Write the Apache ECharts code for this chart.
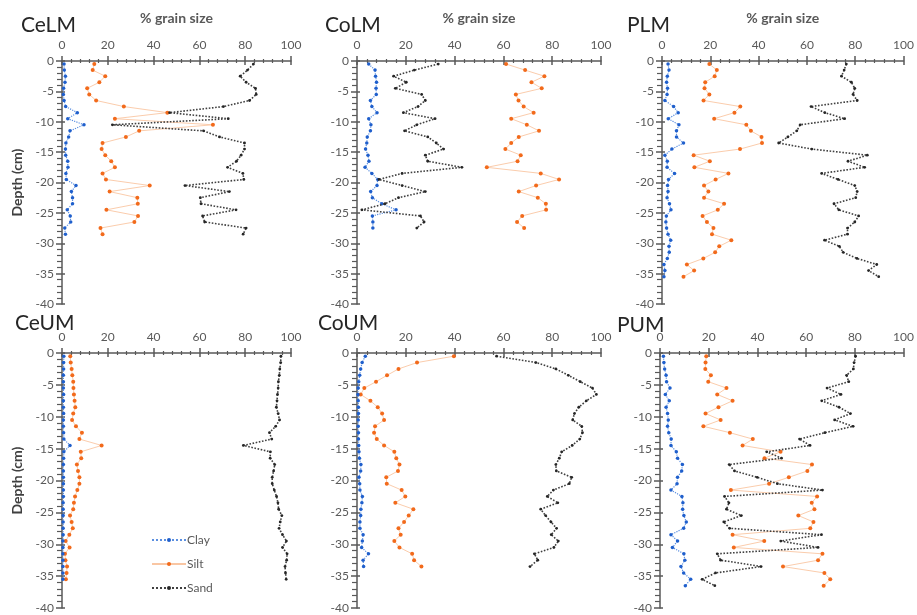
<!DOCTYPE html>
<html>
<head>
<meta charset="utf-8">
<script src="https://cdn.jsdelivr.net/npm/echarts@6/dist/echarts.min.js"></script>
<style>
  html, body { margin: 0; padding: 0; background: #fff; }
  #chart { width: 917px; height: 615px; }
</style>
</head>
<body>
<div id="chart"></div>
<script>
// sample depths (cm), shared by all cores
const depths = [-0.5, -1.5, -2.5, -3.5, -4.5, -5.5, -6.5, -7.5, -8.5, -9.5,
  -10.5, -11.5, -12.5, -13.5, -14.5, -15.5, -16.5, -17.5, -18.5, -19.5,
  -20.5, -21.5, -22.5, -23.5, -24.5, -25.5, -26.5, -27.5, -28.5, -29.5,
  -30.5, -31.5, -32.5, -33.5, -34.5, -35.5, -36.5]
const xTicks = [0, 20, 40, 60, 80, 100]
const yTicks = [0, -5, -10, -15, -20, -25, -30, -35, -40]

// CeLM
const celmClay = [0.9, 1.0, 1.5, 1.3, 0.7, 0.6, 0.9, 1.6, 6.7, 2.5, 9.6, 3.5, 2.9, 1.7, 1.5, 1.6, 2.5, 2.6, 1.7, 1.9, 6.1, 4.1, 4.6, 4.6, 2.3, 3.6, 3.8, 1.2, 1.5]
const celmSilt = [14.1, 13.4, 18.9, 16.3, 11.0, 11.9, 14.9, 27.0, 46.0, 23.1, 65.9, 33.7, 27.9, 17.7, 17.3, 18.9, 21.5, 23.1, 17.7, 19.2, 38.3, 20.8, 32.9, 33.1, 19.4, 33.2, 31.6, 16.8, 17.7]
const celmSand = [83.6, 81.0, 77.8, 80.4, 84.5, 84.8, 81.9, 70.5, 47.0, 72.6, 22.0, 61.8, 68.8, 79.7, 79.7, 78.2, 76.2, 72.3, 79.0, 79.4, 53.7, 73.1, 60.4, 60.7, 76.0, 61.4, 62.3, 80.4, 79.1]
// CoLM
const colmClay = [4.8, 7.4, 7.6, 8.0, 7.8, 7.9, 5.5, 6.1, 8.2, 4.8, 5.7, 5.5, 4.2, 4.0, 3.5, 4.5, 4.9, 3.3, 6.1, 8.5, 8.2, 5.6, 6.3, 10.2, 16.0, 6.3, 6.5, 6.5]
const colmSilt = [61.1, 68.9, 76.8, 71.5, 75.7, 65.1, 66.2, 68.3, 72.4, 63.2, 69.6, 74.6, 66.3, 63.2, 60.8, 67.1, 65.8, 53.2, 75.3, 82.8, 73.4, 66.3, 74.1, 77.4, 77.5, 67.7, 65.6, 68.5]
const colmSand = [33.3, 23.5, 15.0, 20.2, 15.7, 26.5, 28.0, 25.0, 19.0, 32.0, 24.5, 19.5, 29.0, 32.5, 35.5, 28.0, 29.0, 43.0, 18.5, 9.0, 18.5, 28.0, 17.0, 11.5, 2.0, 26.0, 27.5, 24.5]
// PLM
const plmClay = [2.5, 2.9, 2.2, 1.9, 2.3, 2.1, 1.2, 4.8, 6.7, 2.6, 7.0, 6.0, 6.0, 8.9, 4.1, 1.2, 2.2, 2.1, 5.2, 2.7, 2.3, 2.5, 2.1, 3.1, 3.7, 1.8, 1.6, 1.9, 2.5, 3.6, 2.9, 3.0, 2.2, 0.8, 1.2, 0.8]
const plmSilt = [19.6, 22.7, 21.8, 17.9, 17.6, 19.6, 17.2, 32.4, 30.0, 21.6, 34.9, 36.8, 41.2, 41.4, 32.3, 13.1, 19.8, 13.4, 27.5, 22.2, 17.4, 19.2, 17.4, 25.7, 23.1, 16.8, 18.6, 21.3, 20.7, 28.7, 23.7, 22.0, 17.1, 10.3, 13.3, 8.9]
const plmSand = [76.3, 75.4, 74.3, 78.4, 79.8, 79.1, 80.8, 61.7, 67.4, 75.6, 57.2, 55.8, 52.1, 48.3, 62.0, 85.0, 77.0, 83.9, 66.1, 72.9, 79.8, 80.8, 80.2, 71.2, 73.2, 81.4, 79.8, 76.8, 76.8, 67.3, 73.4, 75.0, 80.7, 88.9, 85.5, 89.7]
// CeUM
const ceumClay = [0.8, 0.7, 0.7, 0.6, 0.6, 0.6, 0.7, 0.6, 0.6, 0.7, 0.6, 0.6, 0.7, 0.8, 3.5, 0.8, 0.7, 0.6, 0.6, 0.6, 0.6, 0.6, 0.6, 0.5, 0.5, 0.5, 0.5, 0.5, 0.5, 0.4, 0.4, 0.4, 0.4, 0.4, 0.4, 0.4]
const ceumSilt = [3.6, 3.8, 4.2, 4.5, 4.9, 5.0, 5.2, 5.5, 5.8, 4.9, 4.4, 6.1, 8.7, 7.6, 17.3, 8.2, 8.4, 6.5, 7.0, 7.6, 7.6, 6.7, 5.7, 5.2, 4.9, 3.5, 4.2, 4.7, 3.2, 1.6, 3.3, 1.3, 1.5, 2.2, 2.0, 1.7]
const ceumSand = [95.6, 95.5, 95.1, 94.9, 94.5, 94.4, 94.1, 93.9, 93.6, 94.4, 95.0, 93.3, 90.6, 91.6, 79.2, 91.0, 90.9, 92.9, 92.4, 91.8, 91.8, 92.7, 93.7, 94.3, 94.6, 96.0, 95.3, 94.8, 96.3, 98.0, 96.3, 98.3, 98.1, 97.4, 97.6, 97.9]
// CoUM
const coumClay = [3.4, 2.1, 1.5, 1.1, 0.7, 0.5, 0.4, 0.5, 0.6, 0.6, 0.5, 0.5, 0.6, 0.6, 0.7, 0.8, 1.0, 1.6, 1.5, 0.8, 1.1, 1.2, 2.2, 2.0, 1.6, 1.5, 1.2, 1.2, 2.5, 2.2, 1.9, 4.7, 2.5, 2.7]
const coumSilt = [39.7, 24.6, 17.0, 12.3, 7.8, 3.0, 1.5, 5.5, 8.5, 10.3, 11.1, 7.4, 7.0, 8.1, 11.1, 15.3, 16.1, 17.4, 16.8, 12.0, 12.2, 18.3, 19.8, 15.7, 23.1, 21.2, 19.3, 17.0, 17.9, 15.3, 17.4, 22.6, 23.4, 26.4]
const coumSand = [57.2, 73.3, 81.5, 86.6, 91.5, 96.5, 98.1, 94.0, 90.9, 89.1, 88.4, 92.1, 92.4, 91.3, 88.2, 83.9, 82.9, 81.5, 81.7, 88.0, 87.0, 80.5, 78.0, 82.3, 75.3, 77.3, 79.5, 81.8, 79.6, 82.5, 80.7, 72.7, 74.1, 70.9]
// PUM
const pumClay = [1.4, 1.6, 1.9, 2.5, 2.7, 4.1, 2.2, 3.8, 2.5, 3.1, 3.4, 3.1, 3.6, 4.6, 4.5, 6.7, 7.2, 9.2, 8.9, 7.2, 7.0, 4.5, 9.0, 9.4, 9.3, 9.8, 10.8, 9.7, 4.5, 7.2, 5.1, 9.8, 10.2, 8.6, 9.7, 12.6, 10.4]
const pumSilt = [19.0, 18.7, 18.6, 20.9, 19.8, 27.3, 23.5, 29.8, 24.0, 18.7, 24.9, 17.8, 28.7, 38.1, 33.9, 49.5, 42.9, 62.4, 60.5, 52.9, 44.8, 29.1, 64.5, 62.3, 63.4, 56.8, 63.0, 61.7, 29.8, 42.8, 30.3, 66.7, 64.9, 50.5, 67.5, 69.9, 67.2]
const pumSand = [80.3, 79.7, 79.4, 76.6, 77.5, 68.6, 74.3, 66.4, 73.5, 78.2, 71.7, 79.3, 67.7, 57.3, 61.6, 43.8, 49.9, 28.4, 30.6, 39.9, 48.2, 66.7, 26.5, 28.3, 27.3, 33.4, 26.2, 28.6, 66.3, 49.6, 64.9, 23.5, 24.9, 41.5, 22.8, 17.3, 22.5]

const panels = [
  { name: 'CeLM', clay: celmClay, silt: celmSilt, sand: celmSand, top: true, depthName: true },
  { name: 'CoLM', clay: colmClay, silt: colmSilt, sand: colmSand, top: true },
  { name: 'PLM', clay: plmClay, silt: plmSilt, sand: plmSand, top: true },
  { name: 'CeUM', clay: ceumClay, silt: ceumSilt, sand: ceumSand, depthName: true },
  { name: 'CoUM', clay: coumClay, silt: coumSilt, sand: coumSand },
  { name: 'PUM', clay: pumClay, silt: pumSilt, sand: pumSand }
]
// 画布上的位置
const boxes = [
  { left: 62, top: 61, width: 229, height: 243, title: [16, 10] },
  { left: 357, top: 61, width: 244, height: 243, title: [320, 10] },
  { left: 662, top: 61, width: 244, height: 243, title: [622, 10] },
  { left: 62, top: 353, width: 229, height: 255, title: [10, 308] },
  { left: 357, top: 353, width: 244, height: 255, title: [313, 308] },
  { left: 660, top: 353, width: 244, height: 255, title: [612, 310] }
]

const font = 'Lato, "Open Sans", sans-serif'
const axisColor = '#595959'
const labelColor = '#595959'

const pairs = (vals) => vals.map((v, i) => [v, depths[i]])

const grid = [], xAxis = [], yAxis = [], series = [], title = []
const xOver = [], yOver = []
panels.forEach((p, i) => {
  const b = boxes[i]
  grid.push({ left: b.left, top: b.top, width: b.width, height: b.height, containLabel: false })
  title.push({
    text: p.name, left: b.title[0], top: b.title[1],
    textStyle: { fontFamily: font, fontSize: 21, fontWeight: 'normal', color: '#262626' }
  })
  xAxis.push({
    gridIndex: i, type: 'value', position: 'top', min: 0, max: 100, interval: 20,
    name: p.top ? '% grain size' : '', nameLocation: 'middle', nameGap: 36,
    nameTextStyle: { fontFamily: font, fontSize: 14, fontWeight: 'bold', color: '#595959' },
    axisLine: { onZero: false, lineStyle: { color: axisColor, width: 1.5 } },
    axisTick: { show: true, inside: false, length: 5, lineStyle: { color: axisColor, width: 1.5 } },
    minorTick: { show: true, splitNumber: 5, length: 2, lineStyle: { color: axisColor, width: 1.2 } },
    axisLabel: { margin: 10, fontFamily: font, fontSize: 12, color: labelColor,
      formatter: (v) => xTicks.indexOf(v) >= 0 ? String(v) : '' },
    splitLine: { show: false }
  })
  yAxis.push({
    gridIndex: i, type: 'value', position: 'left', min: -40, max: 0, interval: 5,
    name: p.depthName ? 'Depth (cm)' : '', nameLocation: 'middle', nameGap: 38, nameRotate: 90,
    nameTextStyle: { fontFamily: font, fontSize: 14, fontWeight: 'bold', color: '#404040' },
    axisLine: { onZero: false, lineStyle: { color: axisColor, width: 1.5 } },
    axisTick: { show: true, inside: false, length: 6, lineStyle: { color: axisColor, width: 1.5 } },
    minorTick: { show: true, splitNumber: 5, length: 5, lineStyle: { color: axisColor, width: 1.2 } },
    axisLabel: { margin: 8, fontFamily: font, fontSize: 12, color: labelColor,
      formatter: (v) => yTicks.indexOf(v) >= 0 ? String(v) : '' },
    splitLine: { show: false }
  })
  // inner half of the crossing ticks
  xOver.push({
    gridIndex: i, type: 'value', position: 'top', min: 0, max: 100, interval: 20,
    axisLine: { show: false, onZero: false },
    axisTick: { show: true, inside: true, length: 4, lineStyle: { color: axisColor, width: 1.5 } },
    minorTick: { show: true, splitNumber: 5, length: 2, lineStyle: { color: axisColor, width: 1.2 } },
    axisLabel: { show: false }, splitLine: { show: false }
  })
  yOver.push({
    gridIndex: i, type: 'value', position: 'left', min: -40, max: 0, interval: 5,
    axisLine: { show: false, onZero: false },
    axisTick: { show: true, inside: true, length: 3, lineStyle: { color: axisColor, width: 1.5 } },
    axisLabel: { show: false }, splitLine: { show: false }
  })
  series.push({
    name: 'Clay', type: 'line', xAxisIndex: i, yAxisIndex: i, data: pairs(p.clay),
    symbol: 'circle', symbolSize: 3.5, itemStyle: { color: '#1f5fcc' },
    lineStyle: { type: 'dotted', width: 1.2, color: '#5b8fe0' }, z: 4
  })
  series.push({
    name: 'Silt', type: 'line', xAxisIndex: i, yAxisIndex: i, data: pairs(p.silt),
    symbol: 'circle', symbolSize: 4, itemStyle: { color: '#f26a1b' },
    lineStyle: { type: 'solid', width: 0.9, color: '#f9c6a3' }, z: 3
  })
  series.push({
    name: 'Sand', type: 'line', xAxisIndex: i, yAxisIndex: i, data: pairs(p.sand),
    symbol: 'circle', symbolSize: 2.8, itemStyle: { color: '#262626' },
    lineStyle: { type: 'dotted', width: 1.6, color: '#404040' }, z: 5
  })
})

const myChart = echarts.init(document.getElementById('chart'))
myChart.setOption({
  animation: false,
  title: title,
  legend: {
    data: ['Clay', 'Silt', 'Sand'],
    orient: 'vertical', left: 146, top: 529, itemGap: 12,
    itemWidth: 34, itemHeight: 5,
    textStyle: { fontFamily: font, fontSize: 12, color: '#595959', padding: [0, 0, 0, -4] }
  },
  grid: grid,
  xAxis: xAxis.concat(xOver),
  yAxis: yAxis.concat(yOver),
  series: series
})
</script>
</body>
</html>
